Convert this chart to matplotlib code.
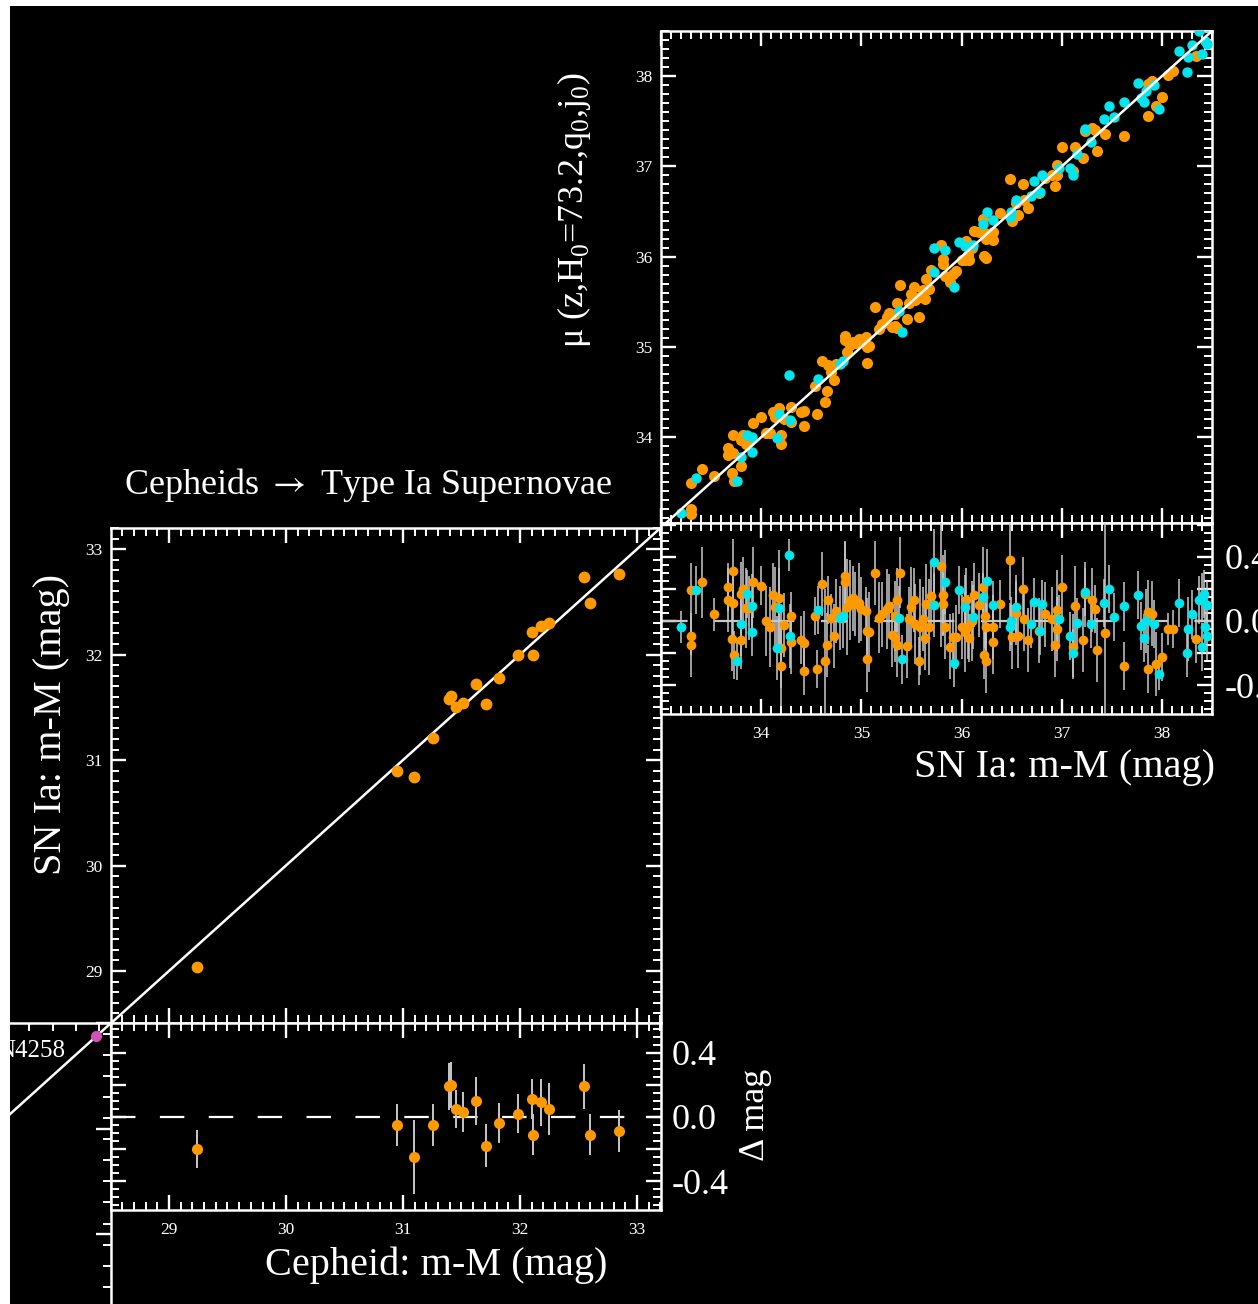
import matplotlib
matplotlib.use('Agg')
import matplotlib.pyplot as plt
import numpy as np
from matplotlib.ticker import MultipleLocator, FixedLocator, FuncFormatter, NullFormatter
from matplotlib.patches import Rectangle

plt.rcParams['font.family'] = ['Liberation Serif', 'DejaVu Serif']
plt.rcParams['mathtext.fontset'] = 'custom'
plt.rcParams['mathtext.rm'] = 'Liberation Serif'
plt.rcParams['axes.unicode_minus'] = False

# ---------------- data ----------------
# Cepheid -> SN Ia rung (lower-left main panel + residuals)
ceph_mu = [29.24, 30.95, 31.09, 31.26, 31.39, 31.41, 31.45, 31.51, 31.62, 31.71,
           31.82, 31.98, 32.10, 32.11, 32.18, 32.25, 32.55, 32.60, 32.85]
sn_mu = [29.04, 30.90, 30.84, 31.21, 31.58, 31.61, 31.50, 31.54, 31.72, 31.53,
         31.78, 32.00, 32.21, 32.00, 32.27, 32.30, 32.74, 32.49, 32.76]
ceph_res = [-0.20, -0.05, -0.25, -0.05, 0.19, 0.20, 0.05, 0.03, 0.10, -0.18,
            -0.04, 0.02, 0.11, -0.11, 0.09, 0.05, 0.19, -0.11, -0.09]
ceph_err = [0.12, 0.13, 0.23, 0.13, 0.145, 0.145, 0.12, 0.125, 0.15, 0.135,
            0.125, 0.12, 0.125, 0.13, 0.145, 0.16, 0.14, 0.125, 0.13]

# geometric anchor (lower-left panel corner)
anchor_x = [28.37]
anchor_y = [28.38]
anchor_name = 'N4258'

# SN Ia -> Hubble flow (orange sample)
hf_o_sn = [33.30, 33.30, 33.30, 33.41, 33.53, 33.67, 33.67, 33.72, 33.72, 33.71,
           33.73, 33.80, 33.80, 33.82, 33.85, 33.88, 33.92, 34.00, 34.05, 34.09,
           34.12, 34.14, 34.18, 34.20, 34.20, 34.23, 34.30, 34.30, 34.40, 34.43,
           34.43, 34.54, 34.56, 34.61, 34.64, 34.66, 34.67, 34.70, 34.73, 34.75,
           34.84, 34.84, 34.86, 34.89, 34.92, 34.94, 34.98, 35.00, 35.05, 35.06,
           35.06, 35.08, 35.14, 35.18, 35.21, 35.26, 35.28, 35.31, 35.34, 35.34,
           35.36, 35.36, 35.39, 35.46, 35.48, 35.50, 35.53, 35.54, 35.58, 35.59,
           35.62, 35.65, 35.64, 35.68, 35.70, 35.79, 35.81, 35.81, 35.83, 35.88,
           35.91, 35.94, 36.00, 36.03, 36.04, 36.06, 36.07, 36.10, 36.12, 36.17,
           36.21, 36.23, 36.22, 36.24, 36.24, 36.31, 36.31, 36.38, 36.48, 36.50,
           36.54, 36.56, 36.61, 36.62, 36.66, 36.77, 36.83, 36.90, 36.93, 36.95,
           36.95, 37.00, 37.11, 37.13, 37.21, 37.23, 37.30, 37.33, 37.35, 37.43,
           37.62, 37.86, 37.86, 37.90, 37.94, 38.00, 38.06, 38.11, 38.34]
hf_o_res = [-0.095, -0.15, 0.19, 0.24, 0.04, 0.21, 0.13, 0.31, 0.11, -0.11,
            -0.21, -0.12, 0.17, 0.20, 0.08, 0.08, 0.24, 0.22, 0.00, -0.04,
            0.16, 0.085, 0.14, -0.17, -0.28, -0.025, 0.03, -0.13, -0.12, -0.14,
            -0.31, 0.03, -0.30, 0.23, -0.25, -0.15, 0.13, 0.02, -0.095, 0.06,
            0.24, 0.28, 0.085, 0.13, 0.14, 0.105, 0.11, 0.075, 0.06, -0.06,
            -0.24, -0.07, 0.30, 0.02, 0.04, 0.075, 0.095, -0.085, -0.105, 0.03,
            0.13, -0.15, 0.30, -0.155, 0.01, 0.085, 0.13, -0.02, -0.25, -0.04,
            0.01, 0.105, -0.105, -0.04, 0.155, 0.34, 0.16, 0.106, -0.04, -0.16,
            -0.10, -0.10, -0.04, -0.07, 0.13, -0.04, -0.105, 0.00, 0.16, 0.10,
            0.21, 0.03, -0.21, -0.25, -0.04, -0.13, -0.04, 0.105, 0.38, -0.10,
            0.05, -0.095, 0.20, 0.01, -0.12, -0.06, 0.04, 0.01, -0.15, 0.065,
            -0.05, 0.21, -0.16, 0.09, -0.12, 0.165, 0.13, 0.075, -0.18, -0.075,
            -0.28, 0.057, -0.30, 0.046, -0.27, -0.226, -0.05, -0.05, -0.115]
hf_o_err = [0.12, 0.20, 0.17, 0.22, 0.10, 0.15, 0.20, 0.20, 0.22, 0.20,
            0.15, 0.18, 0.20, 0.20, 0.25, 0.20, 0.22, 0.12, 0.22, 0.25,
            0.20, 0.25, 0.30, 0.25, 0.25, 0.20, 0.15, 0.20, 0.15, 0.20,
            0.15, 0.12, 0.12, 0.20, 0.45, 0.20, 0.15, 0.15, 0.20, 0.20,
            0.25, 0.22, 0.30, 0.25, 0.20, 0.20, 0.25, 0.20, 0.15, 0.20,
            0.20, 0.25, 0.20, 0.22, 0.20, 0.25, 0.20, 0.20, 0.15, 0.22,
            0.20, 0.20, 0.22, 0.20, 0.20, 0.25, 0.20, 0.25, 0.15, 0.30,
            0.20, 0.25, 0.20, 0.30, 0.20, 0.50, 0.25, 0.20, 0.20, 0.20,
            0.15, 0.20, 0.20, 0.25, 0.20, 0.20, 0.15, 0.25, 0.20, 0.20,
            0.25, 0.20, 0.15, 0.20, 0.15, 0.20, 0.20, 0.15, 0.25, 0.20,
            0.20, 0.20, 0.20, 0.20, 0.20, 0.20, 0.20, 0.20, 0.20, 0.25,
            0.20, 0.20, 0.20, 0.25, 0.20, 0.20, 0.20, 0.15, 0.20, 0.70,
            0.15, 0.20, 0.15, 0.20, 0.20, 0.15, 0.10, 0.12, 0.15]

# SN Ia -> Hubble flow (cyan sample)
hf_c_sn = [33.20, 33.35, 33.76, 33.80, 33.86, 33.91, 33.91, 34.18, 34.16, 34.28,
           34.29, 34.57, 34.79, 34.82, 35.38, 35.41, 35.73, 35.73, 35.83, 35.92,
           35.97, 36.03, 36.11, 36.21, 36.25, 36.31, 36.48, 36.49, 36.54, 36.69,
           36.72, 36.78, 36.80, 36.97, 37.08, 37.11, 37.15, 37.23, 37.29, 37.42,
           37.47, 37.52, 37.62, 37.76, 37.79, 37.82, 37.84, 37.92, 37.97, 38.17,
           38.25, 38.26, 38.30, 38.37, 38.40, 38.42, 38.45, 38.43, 38.45, 38.40]
hf_c_res = [-0.04, 0.195, -0.25, -0.02, 0.17, 0.095, -0.07, 0.08, -0.17, 0.41,
            -0.095, 0.07, 0.017, 0.03, 0.02, -0.24, 0.10, 0.37, 0.24, -0.26,
            0.19, 0.085, 0.025, 0.15, 0.25, 0.10, -0.04, 0.00, 0.085, -0.02,
            0.115, -0.06, 0.105, 0.01, -0.095, -0.20, -0.01, 0.18, -0.017, 0.11,
            0.20, 0.025, 0.09, 0.16, -0.03, -0.105, 0.00, -0.017, -0.33, 0.11,
            -0.20, -0.05, 0.04, 0.13, 0.15, 0.17, 0.10, -0.04, -0.095, -0.16]
hf_c_err = [0.10, 0.15, 0.12, 0.20, 0.15, 0.20, 0.15, 0.25, 0.20, 0.10,
            0.20, 0.15, 0.20, 0.20, 0.20, 0.15, 0.20, 0.20, 0.20, 0.15,
            0.15, 0.20, 0.20, 0.15, 0.20, 0.15, 0.15, 0.15, 0.20, 0.15,
            0.15, 0.15, 0.15, 0.15, 0.15, 0.15, 0.15, 0.15, 0.15, 0.15,
            0.15, 0.15, 0.15, 0.15, 0.15, 0.15, 0.20, 0.15, 0.10, 0.15,
            0.15, 0.20, 0.15, 0.15, 0.15, 0.15, 0.15, 0.15, 0.15, 0.15]

# ---------------- layout helpers ----------------
W, H = 1258, 1304
fig = plt.figure(figsize=(W / 100, H / 100), dpi=100, facecolor='black')

ORANGE = '#ff9900'
CYAN = '#00e6ec'
GREY = '#c8c8c8'
SMALL = 12.5
BIG = 26


def ax_px(x0, y0, x1, y1):
    return fig.add_axes([x0 / W, 1 - y1 / H, (x1 - x0) / W, (y1 - y0) / H])


def style(ax):
    ax.set_facecolor('black')
    for s in ax.spines.values():
        s.set_color('white')
        s.set_linewidth(1.8)
    ax.tick_params(which='both', direction='in', colors='white',
                   top=True, bottom=True, left=True, right=True,
                   labelbottom=False, labelleft=False, labeltop=False, labelright=False)
    ax.tick_params(which='major', length=11, width=1.7)
    ax.tick_params(which='minor', length=5.5, width=1.4)


def res_fmt(v, pos):
    if abs(v) < 1e-9:
        return '0.0'
    if abs(abs(v) - 0.4) < 1e-9:
        return '%.1f' % v
    return ''


def int_fmt(lo, hi):
    def f(v, pos):
        r = int(round(v))
        return '%d' % r if lo <= r <= hi else ''
    return FuncFormatter(f)


# ---------------- lower-left (geometric rung corner) ----------------
axg = ax_px(-440, 1023, 111, 1518)
style(axg)
axg.set_xlim(23.79, 28.5)
axg.set_ylim(23.81, 28.5)
axg.xaxis.set_major_locator(MultipleLocator(1.0, offset=0.5))
axg.xaxis.set_minor_locator(MultipleLocator(0.2))
axg.yaxis.set_major_locator(MultipleLocator(1.0, offset=0.5))
axg.yaxis.set_minor_locator(MultipleLocator(0.2))
axg.axline((27.0, 27.0), slope=1, color='white', lw=1.8)
axg.plot(anchor_x, anchor_y, 'o', color='#d64fb6', ms=7, zorder=5)
axg.annotate(anchor_name, (anchor_x[0], anchor_y[0]), xytext=(-31, -15),
             textcoords='offset pixels', color='white', fontsize=18,
             ha='right', va='center')

# ---------------- main Cepheid -> SN Ia panel ----------------
axm = ax_px(111, 528, 661, 1023)
style(axm)
axm.set_xlim(28.505, 33.205)
axm.set_ylim(28.507, 33.2)
axm.xaxis.set_major_locator(MultipleLocator(1))
axm.xaxis.set_minor_locator(MultipleLocator(0.1))
axm.yaxis.set_major_locator(MultipleLocator(1))
axm.yaxis.set_minor_locator(MultipleLocator(0.1))
axm.tick_params(labelleft=True, labelsize=SMALL, pad=6)
axm.yaxis.set_major_formatter(int_fmt(29, 33))
axm.axline((30, 30), slope=1, color='white', lw=1.8)
axm.plot(ceph_mu, sn_mu, 'o', color=ORANGE, ms=8.5, mec='none', zorder=5)

# ---------------- Cepheid residual panel ----------------
axr = ax_px(111, 1023, 661, 1210)
style(axr)
axr.set_xlim(28.505, 33.205)
axr.set_ylim(-0.58, 0.585)
axr.xaxis.set_major_locator(MultipleLocator(1))
axr.xaxis.set_minor_locator(MultipleLocator(0.1))
axr.yaxis.set_major_locator(MultipleLocator(0.2))
axr.yaxis.set_minor_locator(MultipleLocator(0.05))
axr.yaxis.set_major_formatter(FuncFormatter(res_fmt))
axr.xaxis.set_major_formatter(int_fmt(29, 33))
axr.tick_params(labelbottom=True, labelsize=SMALL, pad=9, axis='x')
axr.tick_params(labelright=True, labelsize=BIG, pad=8, axis='y')
axr.axhline(0, color='white', lw=1.6, dashes=(11, 11))
axr.errorbar(ceph_mu, ceph_res, yerr=ceph_err, fmt='none', ecolor=GREY, elinewidth=1.4, zorder=3)
axr.plot(ceph_mu, ceph_res, 'o', color=ORANGE, ms=8, mec='none', zorder=5)

# ---------------- Hubble-flow panel ----------------
hf_o_mu = np.array(hf_o_sn) + np.array(hf_o_res)
hf_c_mu = np.array(hf_c_sn) + np.array(hf_c_res)

axh = ax_px(661, 31, 1212, 523)
style(axh)
axh.set_xlim(33.0, 38.5)
axh.set_ylim(33.05, 38.5)
axh.xaxis.set_major_locator(MultipleLocator(1))
axh.xaxis.set_minor_locator(MultipleLocator(0.1))
axh.yaxis.set_major_locator(MultipleLocator(1))
axh.yaxis.set_minor_locator(MultipleLocator(0.1))
axh.tick_params(labelleft=True, labelsize=SMALL, pad=6)
axh.yaxis.set_major_formatter(int_fmt(34, 38))
axh.axline((35, 35), slope=1, color='white', lw=1.8, zorder=6)
axh.plot(hf_o_sn, hf_o_mu, 'o', color=ORANGE, ms=8, mec='none', zorder=4)
axh.plot(hf_c_sn, hf_c_mu, 'o', color=CYAN, ms=7.5, mec='none', zorder=5)

# ---------------- Hubble-flow residual panel ----------------
axhr = ax_px(661, 523, 1212, 714)
style(axhr)
axhr.set_xlim(33.0, 38.5)
axhr.set_ylim(-0.58, 0.61)
axhr.xaxis.set_major_locator(MultipleLocator(1))
axhr.xaxis.set_minor_locator(MultipleLocator(0.1))
axhr.yaxis.set_major_locator(MultipleLocator(0.2))
axhr.yaxis.set_minor_locator(MultipleLocator(0.05))
axhr.yaxis.set_major_formatter(FuncFormatter(res_fmt))
axhr.xaxis.set_major_formatter(int_fmt(34, 38))
axhr.tick_params(labelbottom=True, labelsize=SMALL, pad=9, axis='x')
axhr.tick_params(labelright=True, labelsize=BIG, pad=9, axis='y')
axhr.axhline(0, color=GREY, lw=1.6, dashes=(12, 12))
axhr.errorbar(hf_o_sn, hf_o_res, yerr=hf_o_err, fmt='none', ecolor=GREY,
              elinewidth=1.3, alpha=0.85, zorder=3)
axhr.errorbar(hf_c_sn, hf_c_res, yerr=hf_c_err, fmt='none', ecolor=GREY,
              elinewidth=1.3, alpha=0.85, zorder=3)
axhr.plot(hf_o_sn, hf_o_res, 'o', color=ORANGE, ms=7, mec='none', zorder=5)
axhr.plot(hf_c_sn, hf_c_res, 'o', color=CYAN, ms=7, mec='none', zorder=6)

# ---------------- texts ----------------
def ftext(x, y, s, **kw):
    fig.text(x / W, 1 - y / H, s, color='white', **kw)

ftext(368, 485, r'Cepheids $\rightarrow$ Type Ia Supernovae', fontsize=26,
      ha='center', va='center', math_fontfamily='stix')
ftext(52, 725, 'SN Ia: m-M (mag)', fontsize=29, rotation=90, ha='center', va='center')
ftext(436, 1265, 'Cepheid: m-M (mag)', fontsize=29, ha='center', va='center')
ftext(755, 1115, '\u0394 mag', fontsize=26, rotation=90, ha='center', va='center')
ftext(1215, 767, 'SN Ia: m-M (mag)', fontsize=29, ha='right', va='center')
ftext(574, 210, '\u03bc (z,H$_{0}$=73.2,q$_{0}$,j$_{0}$)', fontsize=26, rotation=90,
      ha='center', va='center')

# white margins of the cropped picture
fig.add_artist(Rectangle((0, 0), 10 / W, 1, transform=fig.transFigure,
                         facecolor='white', edgecolor='none', zorder=100))
fig.add_artist(Rectangle((0, 1 - 6 / H), 1, 6 / H, transform=fig.transFigure,
                         facecolor='white', edgecolor='none', zorder=100))

fig.savefig('out.png', dpi=100, facecolor=fig.get_facecolor())
